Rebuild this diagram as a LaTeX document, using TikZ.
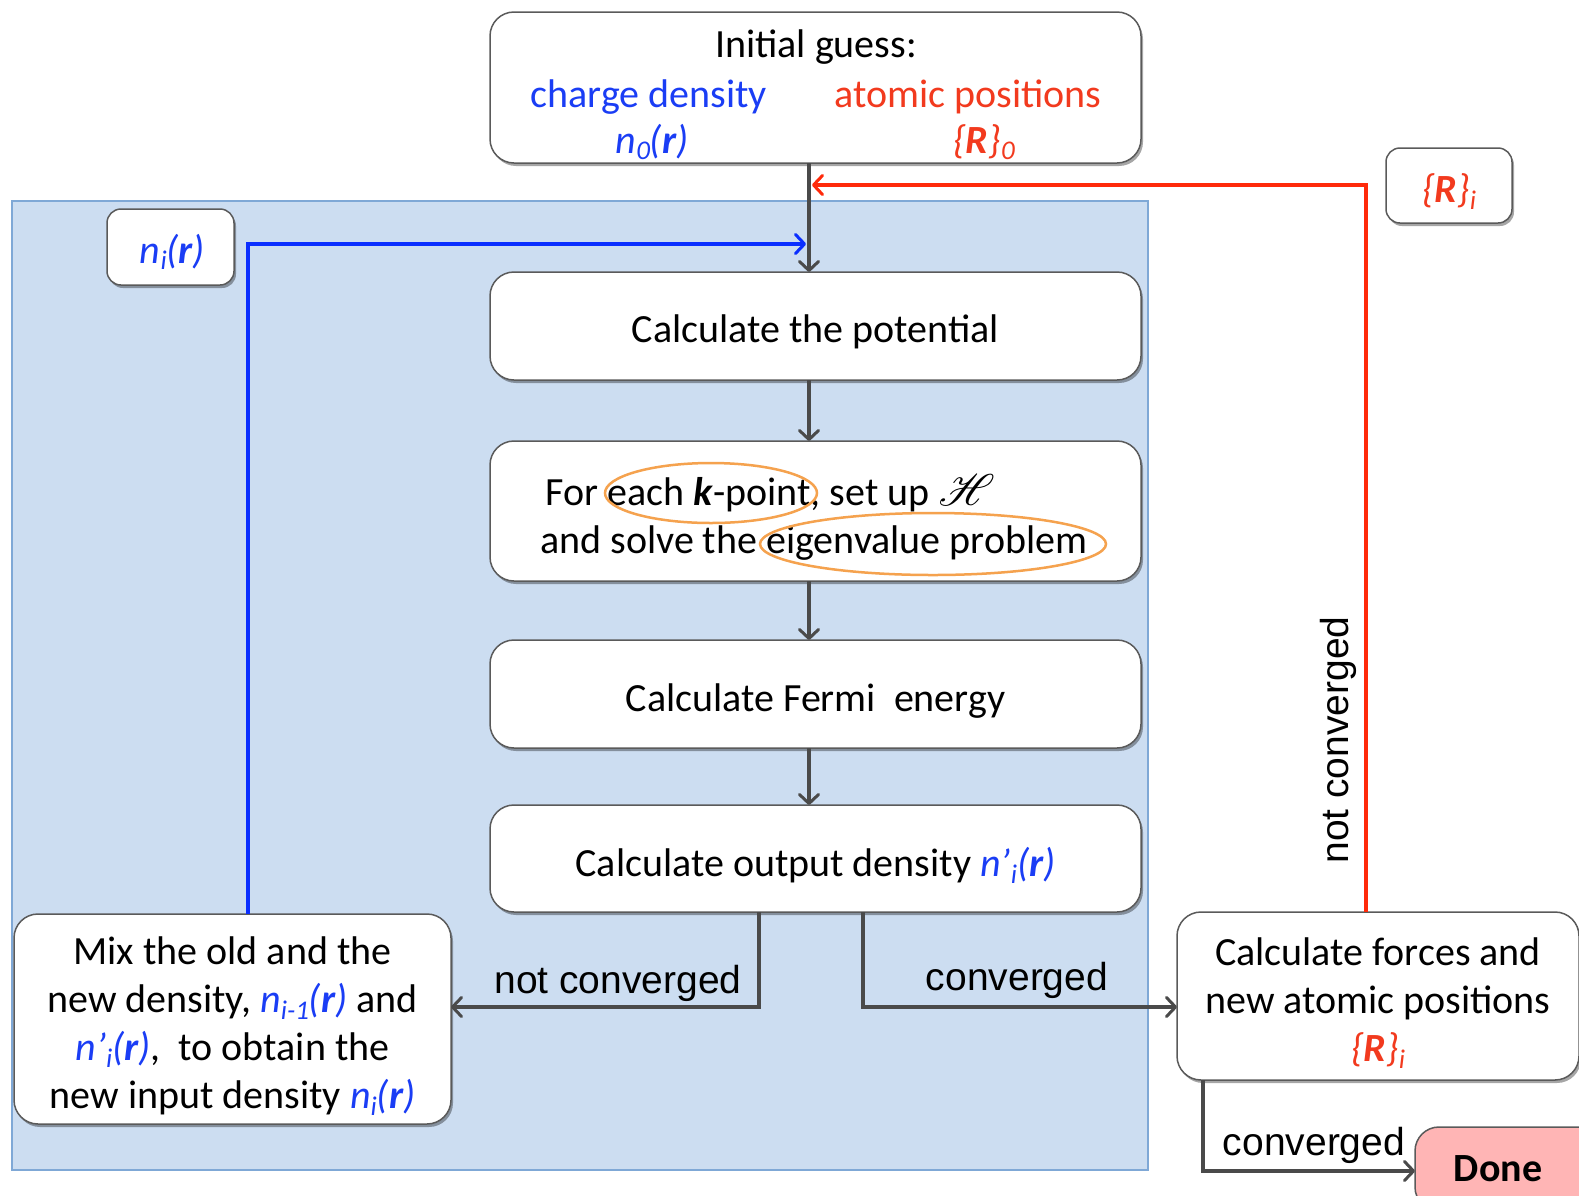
\documentclass[tikz,border=0pt]{standalone}
\usepackage{fontspec}
\usepackage{graphicx}
\usepackage{mathrsfs}
\setmainfont{Carlito}
\newfontfamily\arialfont{Liberation Sans}
\usetikzlibrary{shadows,arrows.meta,calc,shapes.geometric}
\definecolor{nblue}{HTML}{1A3DF5}
\definecolor{rred}{HTML}{F23A1E}
\definecolor{lineblue}{HTML}{0A2EFF}
\definecolor{linered}{HTML}{FF2A0A}
\definecolor{bgblue}{HTML}{CCDDF1}
\definecolor{bgedge}{HTML}{7FA8D6}
\definecolor{arrgray}{HTML}{4A4A4A}
\definecolor{boxedge}{HTML}{5A5A5A}
\definecolor{orng}{HTML}{F5A24E}
\definecolor{donefill}{HTML}{FFB5B5}
\newcommand{\lowix}[1]{\raisebox{-0.35ex}{\fontsize{27}{27}\selectfont #1}}
\newcommand{\nr}[1]{\textcolor{nblue}{\itshape n\lowix{#1}(\textbf{r})}}
\newcommand{\npr}{\textcolor{nblue}{\itshape n’\lowix{i}(\textbf{r})}}
\newcommand{\Rset}[1]{\textcolor{rred}{\itshape\{\textbf{R}\}\lowix{#1}}}
\newcommand{\hamil}{\resizebox{!}{31pt}{$\mathscr{H}$}}
\begin{document}
\begin{tikzpicture}[x=1pt,y=-1pt,
  mainfont/.style={font=\fontsize{40}{48}\selectfont},
  box/.style={draw=boxedge, line width=1.5pt, rounded corners=24pt, fill=white,
    outer sep=0pt, inner sep=0pt,
    drop shadow={shadow xshift=2pt, shadow yshift=-3pt, opacity=0.35, fill=black}},
  txt/.style={mainfont, inner sep=0pt, anchor=base},
  ctxt/.style={mainfont, inner sep=0pt, align=center},
  lbl/.style={font=\arialfont\fontsize{39}{44}\selectfont, inner sep=0pt, anchor=base},
  barb/.style={-{Straight Barb[length=9pt,width=19pt,line width=3pt,round]}},
  garr/.style={barb, draw=arrgray, line width=3.3pt},
  barr/.style={barb, draw=lineblue, line width=4pt},
  rarr/.style={barb, draw=linered, line width=4pt},
  oval/.style={ellipse, draw=orng, line width=2.5pt, inner sep=0pt}
]
\useasboundingbox (0,0) rectangle (1579,1195);
% background
\node[fill=bgblue, draw=bgedge, line width=1.5pt, minimum width=1136, minimum height=969, inner sep=0pt, outer sep=0pt] (bg) at (580,685.5) {};

% boxes
\node[box, minimum width=651, minimum height=151] (init) at (815.5,87.5) {};
\node[txt] (ig) at (816,57) {Initial guess:};
\node[txt, text=nblue] (cd) at (649,107) {charge density};
\node[txt, text=rred] (ap) at (968,107) {atomic positions};
\node[txt] (n0) at (652,153) {\nr{0}};
\node[txt] (R0) at (984,153) {\Rset{0}};

\node[box, minimum width=651, minimum height=108] (pot) at (815.5,326) {};
\node[ctxt] (pott) at ($(pot.center)+(0,6)$) {Calculate the potential};

\node[box, minimum width=651, minimum height=140] (kpt) at (815.5,511) {};
\node[txt, anchor=base west] (k1) at (545,505) {For each \textbf{\textit{k}}-point, set up \hamil};
\node[txt, anchor=base west] (k2) at (540,553) {and solve the eigenvalue problem};
\node[oval, minimum width=212, minimum height=60] (e1) at (711,493) {};
\node[oval, minimum width=346, minimum height=62] (e2) at (933,544) {};

\node[box, minimum width=651, minimum height=108] (fermi) at (815.5,694) {};
\node[ctxt] (fermit) at ($(fermi.center)+(0,7)$) {Calculate Fermi\ \ energy};

\node[box, minimum width=651, minimum height=107] (out) at (815.5,858.5) {};
\node[ctxt] (outt) at ($(out.center)+(0,7)$) {Calculate output density \npr};

\node[box, minimum width=437, minimum height=210] (mix) at (232.5,1019) {};
\node[ctxt] (mixt) at ($(mix.center)+(0,7)$)
  {Mix the old and the\\ new density, \nr{i-1} and\\ \npr,\ \ to obtain the\\ new input density \nr{i}};

\node[box, minimum width=402, minimum height=168] (forces) at (1378,996) {};
\node[ctxt] (forcest) at ($(forces.center)+(0,7)$)
  {Calculate forces and\\ new atomic positions\\ \Rset{i}};

\node[box, fill=donefill, minimum width=190, minimum height=84, anchor=north west] (done) at (1415,1127) {};
\node[txt, font=\bfseries\fontsize{40}{48}\selectfont] (donet) at (1498,1181) {Done};

\node[box, minimum width=127, minimum height=76, rounded corners=14pt] (ni) at (170.5,247) {};
\node[ctxt] (nit) at ($(ni.center)+(2,5)$) {\nr{i}};
\node[box, minimum width=126, minimum height=75, rounded corners=14pt] (Ri) at (1449,185.5) {};
\node[ctxt] (Rit) at ($(Ri.center)+(0,6)$) {\Rset{i}};

% connectors
\coordinate (xl) at (809,0);
\draw[garr] (init.south -| xl) -- (pot.north -| xl);
\draw[garr] (pot.south -| xl) -- (kpt.north -| xl);
\draw[garr] (kpt.south -| xl) -- (fermi.north -| xl);
\draw[garr] (fermi.south -| xl) -- (out.north -| xl);

\coordinate (bl) at (248,244);
\draw[barr, shorten >=3pt, line join=miter] (mix.north -| bl) -- (bl) -- (bl -| xl);
\coordinate (rl) at (1366,185);
\draw[rarr, shorten >=3pt, line join=miter] (forces.north -| rl) -- (rl) -- (rl -| xl);

\coordinate (nc) at (759,1007);
\draw[garr, line join=miter] (out.south -| nc) -- (nc) -- (nc -| mix.east);
\coordinate (cv) at (863,1007);
\draw[garr, line join=miter] (out.south -| cv) -- (cv) -- (cv -| forces.west);
\coordinate (dn) at (1203,1171);
\draw[garr, line join=miter] (forces.south -| dn) -- (dn) -- (dn -| done.west);

% labels
\node[lbl] (l1) at (618,993) {not converged};
\node[lbl] (l2) at (1017,990) {converged};
\node[lbl] (l3) at (1314,1155) {converged};
\node[lbl, rotate=90] (l4) at (1348,740) {not converged};
\end{tikzpicture}
\end{document}
